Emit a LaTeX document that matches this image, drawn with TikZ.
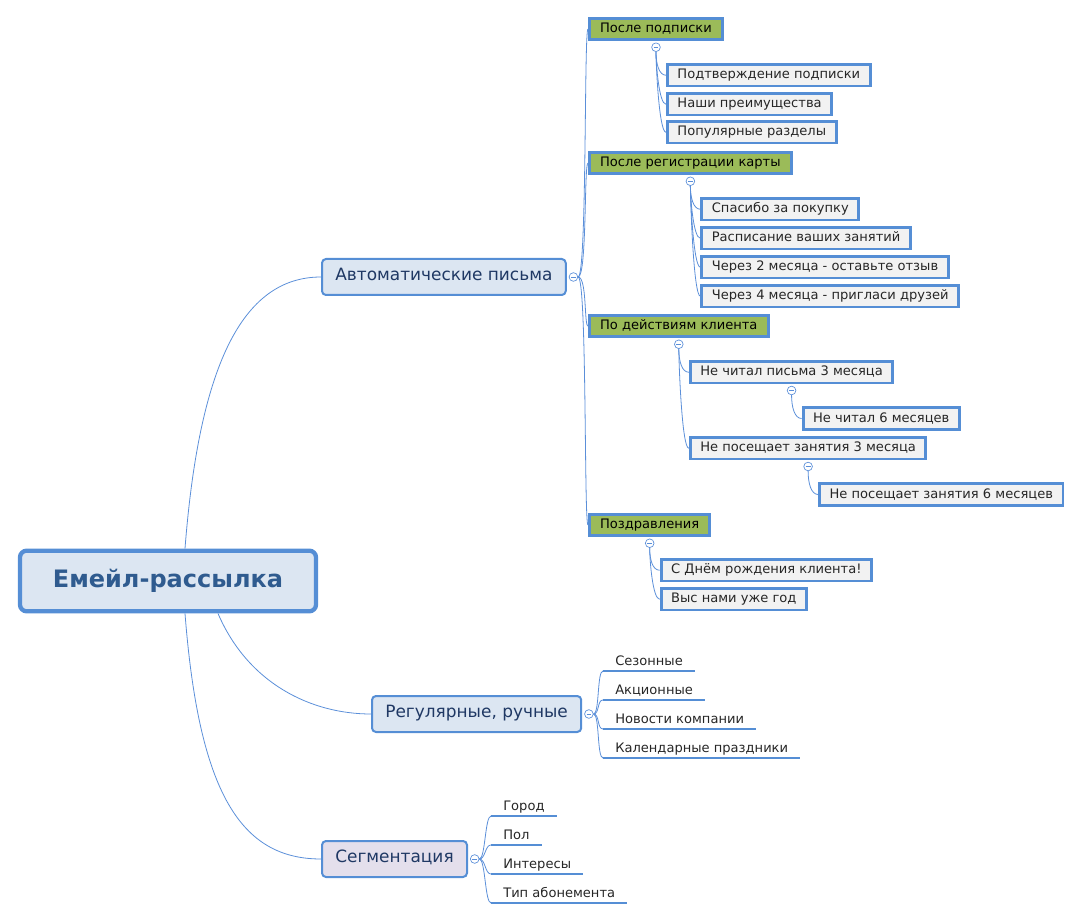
\documentclass[tikz,border=0pt]{standalone}
\usepackage{fontspec}
\setmainfont{DejaVu Sans}
\usetikzlibrary{positioning}

\definecolor{linkblue}{HTML}{5B8FD9}
\definecolor{boxblue}{HTML}{558ED5}
\definecolor{mainfill}{HTML}{DCE6F2}
\definecolor{segfill}{HTML}{E4DFEC}
\definecolor{greenfill}{HTML}{9BBB59}
\definecolor{leaffill}{HTML}{F2F2F2}
\definecolor{roottext}{HTML}{2F5B8F}
\definecolor{maintext}{HTML}{1F3864}

\tikzset{
  link/.style={draw=linkblue,line width=0.6pt},
  rootbox/.style={draw=boxblue,line width=3.2pt,rounded corners=5pt,fill=mainfill,text=roottext,
    font=\fontsize{18}{20}\selectfont\bfseries,minimum width=222pt,minimum height=45.5pt},
  mainbox/.style={draw=boxblue,line width=1.5pt,rounded corners=3pt,fill=mainfill,text=maintext,
    font=\fontsize{12.7}{14}\selectfont,inner xsep=10pt,minimum height=27pt,
    text height=0.75em,text depth=0.2em},
  greenbox/.style={draw=boxblue,line width=2.2pt,fill=greenfill,text=black,
    font=\fontsize{9.8}{11}\selectfont,inner xsep=8pt,minimum height=15pt,
    text height=0.75em,text depth=0.2em},
  leafbox/.style={draw=boxblue,line width=2.2pt,fill=leaffill,text=black!85,
    font=\fontsize{9.8}{11}\selectfont,inner xsep=7.5pt,minimum height=15pt,
    text height=0.75em,text depth=0.2em},
  lineleaf/.style={anchor=south west,text=black!85,font=\fontsize{9.8}{11}\selectfont,
    inner xsep=9pt,inner ysep=4pt,text height=0.75em,text depth=0pt},
  underline/.style={draw=boxblue,line width=1.8pt},
  knob/.style={circle,draw=linkblue,fill=white,line width=0.5pt,inner sep=0pt,minimum size=6.5pt,
    path picture={\draw[linkblue,line width=0.5pt] ([xshift=-1.8pt]path picture bounding box.center)
      -- ([xshift=1.8pt]path picture bounding box.center);}}
}

\begin{document}
\begin{tikzpicture}[x=0.75pt,y=-0.75pt]
\useasboundingbox (0,0) rectangle (1083,920);

\node[rootbox] (root) at (168,581) {Емейл-рассылка};
\node[mainbox,anchor=west] (auto) at (321,277) {Автоматические письма};
\node[mainbox,anchor=west] (regular) at (371,714) {Регулярные, ручные};
\node[mainbox,fill=segfill,anchor=west] (segment) at (321,859) {Сегментация};
\node[knob,right=1.5pt of auto] (autoknob) {};
\node[knob,right=1.5pt of regular] (regularknob) {};
\node[knob,right=1.5pt of segment] (segmentknob) {};

\draw[link] ([xshift=12.75pt]root.north) .. controls +(14,-180) and +(-80,0) .. (auto.west);
\draw[link] ([xshift=37.5pt]root.south) .. controls +(30,70) and +(-60,0) .. (regular.west);
\draw[link] ([xshift=12.75pt]root.south) .. controls +(14,180) and +(-80,0) .. (segment.west);

% automatic letters
\node[greenbox,anchor=west] (subscribe) at (588,29) {После подписки};
\node[greenbox,anchor=west] (card) at (588,163) {После регистрации карты};
\node[greenbox,anchor=west] (actions) at (588,326) {По действиям клиента};
\node[greenbox,anchor=west] (greetings) at (588,525) {Поздравления};
\foreach \g in {subscribe,card,actions,greetings}
  \draw[link] (autoknob.east) .. controls +(9,0) and +(-4,0) .. (\g.west);

\node[knob,below=1pt of subscribe] (subscribeknob) {};
\node[leafbox,anchor=west] (confirm) at ([shift={(10,28)}]subscribeknob.center) {Подтверждение подписки};
\node[leafbox,anchor=west] (benefits) at ([shift={(0,29)}]confirm.west) {Наши преимущества};
\node[leafbox,anchor=west] (popular) at ([shift={(0,28)}]benefits.west) {Популярные разделы};

\node[knob,below=1pt of card] (cardknob) {};
\node[leafbox,anchor=west] (thanks) at ([shift={(10,28)}]cardknob.center) {Спасибо за покупку};
\node[leafbox,anchor=west] (schedule) at ([shift={(0,29)}]thanks.west) {Расписание ваших занятий};
\node[leafbox,anchor=west] (review) at ([shift={(0,29)}]schedule.west) {Через 2 месяца - оставьте отзыв};
\node[leafbox,anchor=west] (invite) at ([shift={(0,29)}]review.west) {Через 4 месяца - пригласи друзей};

\node[knob,below=1pt of actions] (actionsknob) {};
\node[leafbox,anchor=west] (unreadthree) at ([shift={(10,28)}]actionsknob.center) {Не читал письма 3 месяца};
\node[knob,below=1pt of unreadthree] (unreadknob) {};
\node[leafbox,anchor=west] (unreadsix) at ([shift={(10,28)}]unreadknob.center) {Не читал 6 месяцев};
\node[leafbox,anchor=west] (absentthree) at ([shift={(0,76)}]unreadthree.west) {Не посещает занятия 3 месяца};
\node[knob,below=1pt of absentthree] (absentknob) {};
\node[leafbox,anchor=west] (absentsix) at ([shift={(10,28)}]absentknob.center) {Не посещает занятия 6 месяцев};

\node[knob,below=1pt of greetings] (greetingsknob) {};
\node[leafbox,anchor=west] (birthday) at ([shift={(10,27)}]greetingsknob.center) {С Днём рождения клиента!};
\node[leafbox,anchor=west] (oneyear) at ([shift={(0,29)}]birthday.west) {Выс нами уже год};

\foreach \k/\c in {subscribeknob/confirm,subscribeknob/benefits,subscribeknob/popular,
    cardknob/thanks,cardknob/schedule,cardknob/review,cardknob/invite,
    actionsknob/unreadthree,actionsknob/absentthree,unreadknob/unreadsix,absentknob/absentsix,
    greetingsknob/birthday,greetingsknob/oneyear}
  \draw[link] (\k.south) .. controls +(0,12) and +(-7,0) .. (\c.west);

% regular letters
\node[lineleaf] (seasonal) at (603,671) {Сезонные};
\node[lineleaf] (promo) at (603,700) {Акционные};
\node[lineleaf] (news) at (603,729) {Новости компании};
\node[lineleaf] (holidays) at (603,758) {Календарные праздники};

% segmentation
\node[lineleaf] (city) at (491,816) {Город};
\node[lineleaf] (gender) at (491,845) {Пол};
\node[lineleaf] (interests) at (491,874) {Интересы};
\node[lineleaf] (plan) at (491,903) {Тип абонемента};

\foreach \k/\l in {regularknob/seasonal,regularknob/promo,regularknob/news,regularknob/holidays,
    segmentknob/city,segmentknob/gender,segmentknob/interests,segmentknob/plan}{
  \draw[underline] (\l.south west) -- (\l.south east);
  \draw[link] (\k.east) .. controls +(6,0) and +(-6,0) .. (\l.south west);
}
\end{tikzpicture}
\end{document}
